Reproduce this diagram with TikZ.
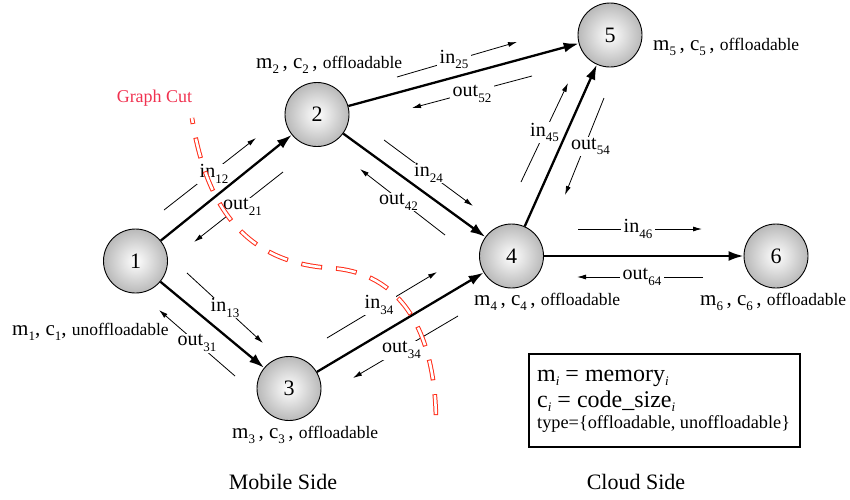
\documentclass[tikz,border=0pt]{standalone}
\usepackage{fontspec}
\setmainfont{Liberation Serif}
\usetikzlibrary{arrows.meta}
\newcommand{\sbx}[1]{\raisebox{-0.28em}{\fontsize{13}{13}\selectfont #1}}
\newcommand{\sbi}[1]{\raisebox{-0.17em}{\fontsize{13}{13}\selectfont\itshape #1}}
\newcommand{\offl}{{\fontsize{17.5}{17.5}\selectfont offloadable}}
\newcommand{\unoffl}{{\fontsize{17.5}{17.5}\selectfont unoffloadable}}
\definecolor{cutred}{RGB}{255,45,25}
\definecolor{cuttext}{RGB}{240,50,80}
\begin{document}
\begin{tikzpicture}[x=1pt,y=-1pt,
  vertex/.style={circle, draw=black, line width=0.9pt, minimum size=64pt, inner sep=0pt,
    inner color=white, outer color=gray!55, font=\fontsize{22}{22}\selectfont},
  edge/.style={line width=2.3pt, -{Latex[length=15pt,width=10pt]}},
  flow/.style={line width=0.8pt, -{Latex[length=9pt,width=5pt]}},
  flab/.style={fill=white, inner xsep=3pt, inner ysep=1pt, font=\fontsize{20}{20}\selectfont},
  attr/.style={anchor=base west, inner sep=0pt, font=\fontsize{21}{21}\selectfont},
  side/.style={font=\fontsize{22}{22}\selectfont},
  legtext/.style={anchor=base west, inner sep=0pt, text height=15pt, text depth=3pt},
  cutout/.style={draw=cutred, line width=4.6pt, dash pattern=on 21pt off 14pt, dash phase=15pt},
  cutin/.style={draw=white, line width=2.6pt, dash pattern=on 19pt off 16pt, dash phase=14pt}
]
\useasboundingbox (0,0) rectangle (850,499);

% vertices
\node[vertex] (n1) at (135.5,261) {1};
\node[vertex] (n2) at (317,114.5) {2};
\node[vertex] (n3) at (289,388.5) {3};
\node[vertex] (n4) at (511.5,256) {4};
\node[vertex] (n5) at (610,35) {5};
\node[vertex] (n6) at (776,256) {6};

% flow coordinates
\coordinate (i12s) at (164,210); \coordinate (i12e) at (256,138);
\coordinate (o21s) at (283,172); \coordinate (o21e) at (194,242);
\coordinate (i13s) at (187,273); \coordinate (i13e) at (263,343);
\coordinate (o31s) at (235,376); \coordinate (o31e) at (159,310);
\coordinate (i24s) at (384,140); \coordinate (i24e) at (473,206);
\coordinate (o42s) at (445,235); \coordinate (o42e) at (360,169);
\coordinate (i34s) at (327,338); \coordinate (i34e) at (437,272);
\coordinate (o34s) at (458,316); \coordinate (o34e) at (353,378);
\coordinate (i25s) at (397,77);  \coordinate (i25e) at (517,42);
\coordinate (o52s) at (532,76);  \coordinate (o52e) at (412,108);
\coordinate (i45s) at (521,182); \coordinate (i45e) at (568,83);
\coordinate (o54s) at (604,98);  \coordinate (o54e) at (565,195);
\coordinate (i46s) at (578,229); \coordinate (i46e) at (702,229);
\coordinate (o64s) at (703,277); \coordinate (o64e) at (577,277);

% flows
\draw[flow] (i12s) -- node[flab, xshift=4pt] {in\sbx{12}} (i12e);
\draw[flow] (o21s) -- node[flab, xshift=4pt] {out\sbx{21}} (o21e);
\draw[flow] (i13s) -- node[flab] {in\sbx{13}} (i13e);
\draw[flow] (o31s) -- node[flab] {out\sbx{31}} (o31e);
\draw[flow] (i24s) -- node[flab] {in\sbx{24}} (i24e);
\draw[flow] (o42s) -- node[flab, xshift=-4pt] {out\sbx{42}} (o42e);
\draw[flow] (i34s) -- node[flab, xshift=-3pt] {in\sbx{34}} (i34e);
\draw[flow] (o34s) -- node[flab, xshift=-4pt, yshift=-3pt] {out\sbx{34}} (o34e);
\draw[flow] (i25s) -- node[flab, xshift=-3pt] {in\sbx{25}} (i25e);
\draw[flow] (o52s) -- node[flab, yshift=-2pt] {out\sbx{52}} (o52e);
\draw[flow] (i45s) -- node[flab] {in\sbx{45}} (i45e);
\draw[flow] (o54s) -- node[flab, xshift=6pt] {out\sbx{54}} (o54e);
\draw[flow] (i46s) -- node[flab, xshift=-2pt] {in\sbx{46}} (i46e);
\draw[flow] (o64s) -- node[flab, xshift=2pt] {out\sbx{64}} (o64e);

% edges
\draw[edge] (n1) -- (n2);
\draw[edge] (n1) -- (n3);
\draw[edge] (n2) -- (n5);
\draw[edge] (n2) -- (n4);
\draw[edge] (n3) -- (n4);
\draw[edge] (n4) -- (n5);
\draw[edge] (n4) -- (n6);

% graph cut
\def\cutpath{(192,118) .. controls (205,200) and (240,262) .. (330,268) .. controls (400,272) and (437,330) .. (436,428)}
\draw[cutout] \cutpath;
\draw[cutin] \cutpath;
\node[text=cuttext, font=\fontsize{18}{18}\selectfont] (gc) at (154.5,98) {Graph Cut};

% attribute labels
\node[attr] (a1) at (12,335) {m\sbx{1}, c\sbx{1}, \unoffl};
\node[attr] (a2) at (256,68) {m\sbx{2}\,, c\sbx{2}\,, \offl};
\node[attr] (a3) at (232,438) {m\sbx{3}\,, c\sbx{3}\,, \offl};
\node[attr] (a4) at (474,305) {m\sbx{4}\,, c\sbx{4}\,, \offl};
\node[attr] (a5) at (653,50) {m\sbx{5}\,, c\sbx{5}\,, \offl};
\node[attr] (a6) at (700,305) {m\sbx{6}\,, c\sbx{6}\,, \offl};

% sides
\node[side] (ms) at (283,482) {Mobile Side};
\node[side] (cs) at (636,482) {Cloud Side};

% legend
\node[draw, line width=1.8pt, minimum width=271pt, minimum height=93pt, anchor=north west, inner sep=0pt] (legend) at (528,353) {};
\node[legtext, font=\fontsize{24}{24}\selectfont] (lg1) at (537,381) {m\sbi{i} = memory\sbi{i}};
\node[legtext, font=\fontsize{24}{24}\selectfont, text height=14pt] (lg2) at (537,407) {c\sbi{i} = code\_size\sbi{i}};
\node[legtext, font=\fontsize{18.3}{18.3}\selectfont, text height=11pt, text depth=4pt] (lg3) at (537,428) {type=\{offloadable, unoffloadable\}};
\end{tikzpicture}
\end{document}
